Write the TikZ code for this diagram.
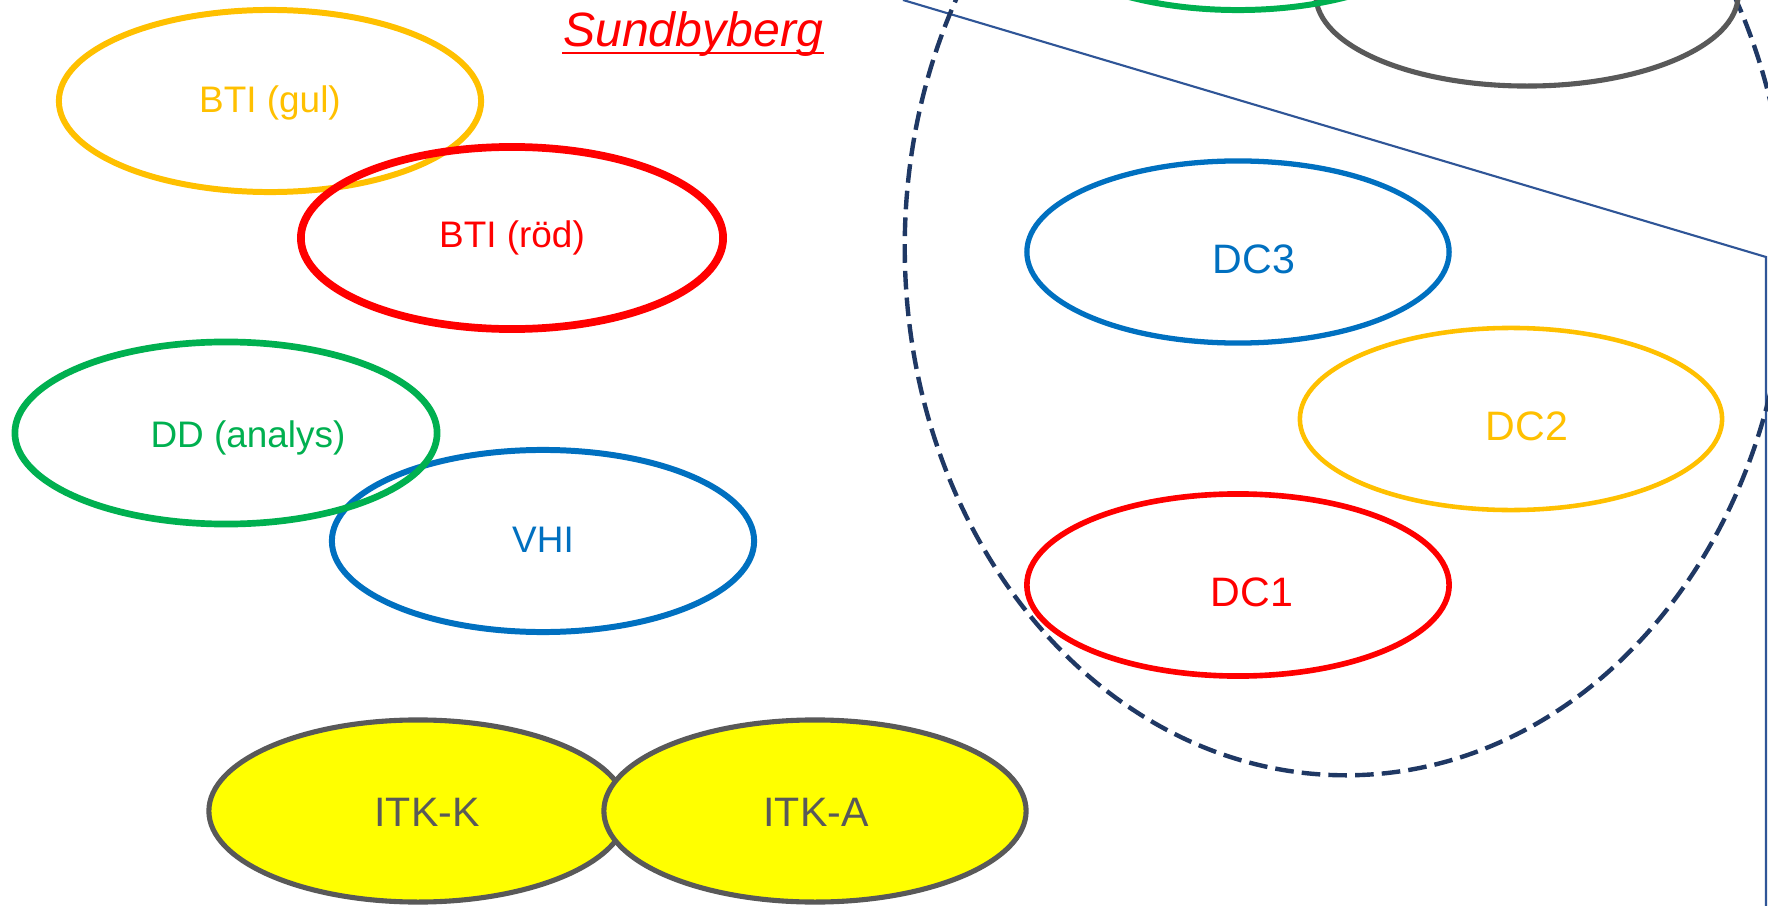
\documentclass[tikz,border=0pt]{standalone}
\usepackage{fontspec}
\setmainfont{Liberation Sans}
\usetikzlibrary{shapes.geometric}
\definecolor{cgul}{HTML}{FFC000}
\definecolor{crod}{HTML}{FF0000}
\definecolor{cgron}{HTML}{00B050}
\definecolor{cbla}{HTML}{0070C0}
\definecolor{cgra}{HTML}{595959}
\definecolor{cfill}{HTML}{FFFF00}
\definecolor{cnavy}{HTML}{1F3864}
\definecolor{cline}{HTML}{2F5597}
\tikzset{
  ell/.style={ellipse, inner sep=0pt, outer sep=0pt, minimum width=42.2mm, minimum height=18.2mm},
  lbl/.style={inner sep=0pt, anchor=base, font=\fontsize{10.5pt}{12pt}\selectfont},
  lblbig/.style={inner sep=0pt, anchor=base, font=\fontsize{11.7pt}{14pt}\selectfont},
}
\begin{document}
\begin{tikzpicture}[x=0.01cm, y=-0.01cm]
\useasboundingbox (0,0) rectangle (1768,906);
\clip (0,0) rectangle (1768,906);
\fill[white] (0,0) rectangle (1768,906);

% left group
\node[ell, draw=cgul, line width=1.7pt] (gul) at (270,101) {};
\node[ell, draw=crod, line width=2.2pt] (rod) at (512,238) {};
\node[ell, draw=cbla, line width=1.7pt] (vhi) at (543,541) {};
\node[ell, draw=cgron, line width=1.9pt] (dd) at (226,433) {};
\node[lbl, text=cgul] (gult) at (270,113) {BTI (gul)};
\node[lbl, text=crod] (rodt) at (512,248) {BTI (röd)};
\node[lbl, text=cgron] (ddt) at (248,447) {DD (analys)};
\node[lbl, text=cbla] (vhit) at (543,552) {VHI};

% ITK
\node[ell, draw=cgra, fill=cfill, line width=1.45pt, minimum width=41.8mm, minimum height=18.2mm] (itkk) at (418,811) {};
\node[ell, draw=cgra, fill=cfill, line width=1.45pt, minimum width=42.2mm, minimum height=18.2mm] (itka) at (815,811) {};
\node[lblbig, text=cgra] (itkkt) at (427,826) {ITK-K};
\node[lblbig, text=cgra] (itkat) at (816,826) {ITK-A};

% title
\node[inner sep=0pt, anchor=base, text=crod, font=\fontsize{13.7pt}{16pt}\selectfont\itshape] (sund) at (693,47) {Sundbyberg};
\draw[crod, line width=0.7pt] ([yshift=-1.7pt]sund.base west) -- ([yshift=-1.7pt]sund.base east);

% right side
\coordinate (l1) at (903,0);
\coordinate (l2) at (1766,257);
\coordinate (l3) at (1766,906);
\draw[cline, line width=0.6pt] (l1) -- (l2) -- (l3);

\node[ellipse, draw=cnavy, line width=1.25pt, dash pattern=on 5.3pt off 2.3pt, inner sep=0pt, minimum width=88.2mm, minimum height=105.6mm] (dash) at (1346,247) {};

\node[ell, draw=cgra, line width=1.45pt] (gray) at (1527,-5) {};
\node[ell, draw=cgron, line width=1.7pt] (grn) at (1238,-81) {};

\node[ell, draw=cbla, line width=1.5pt] (dc3) at (1238,252) {};
\node[ell, draw=cgul, line width=1.3pt] (dc2) at (1511,419) {};
\node[ell, draw=crod, line width=1.6pt] (dc1) at (1238,585) {};
\node[lblbig, text=cbla] (dc3t) at (1254,274) {DC3};
\node[lblbig, text=cgul] (dc2t) at (1527,440) {DC2};
\node[lblbig, text=crod] (dc1t) at (1252,606) {DC1};
\end{tikzpicture}
\end{document}
